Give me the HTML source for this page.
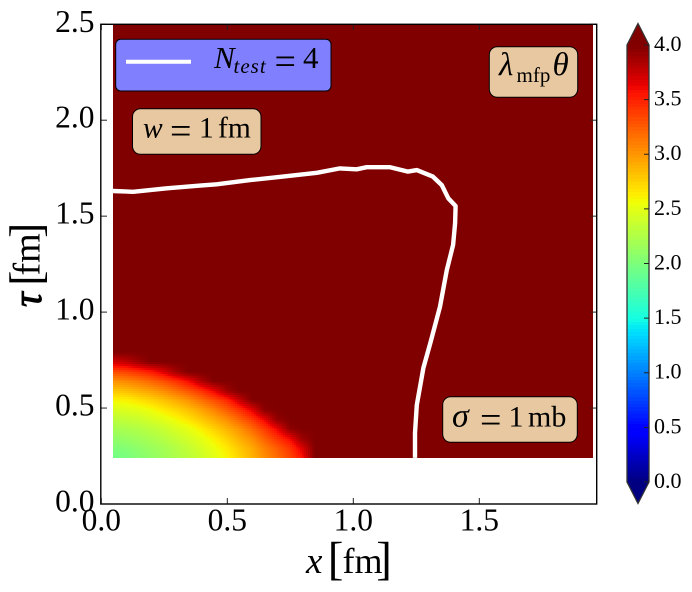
<!DOCTYPE html>
<html lang="en">
<head>
<meta charset="utf-8">
<title>Heatmap of lambda mfp theta</title>
<style>
html,body{margin:0;padding:0;background:#fff;width:692px;height:592px;overflow:hidden}
svg{display:block}
text{font-family:"Liberation Serif","DejaVu Serif",serif;fill:#000}
.i{font-style:italic}
</style>
</head>
<body>
<svg id="chart" xmlns="http://www.w3.org/2000/svg" width="692" height="592" viewBox="0 0 692 592">
<g id="cells" shape-rendering="crispEdges"></g>
<polyline id="contour" fill="none" stroke="#fff" stroke-width="4.4" stroke-linejoin="round"></polyline>
<g id="ticks" stroke="#222" stroke-width="1"></g>
<rect x="100.8" y="24.3" width="495.9" height="479.7" fill="none" stroke="#000" stroke-width="1.4"/>
<g id="xlabels" font-size="31.5" text-anchor="middle"></g>
<g id="ylabels" font-size="31.5" text-anchor="end"></g>
<g>
<text class="i" x="306" y="573" font-size="37">x</text>
<text x="327.8" y="574.6" font-size="47">[</text>
<text x="342.5" y="573" font-size="36">fm</text>
<text x="376.3" y="574.6" font-size="47">]</text>
</g>
<g transform="translate(39.3,307) rotate(-90)">
<text class="i" x="0" y="1.5" font-size="41" stroke="#000" stroke-width="0.9">τ</text>
<text x="21.3" y="1.9" font-size="45.6">[</text>
<text x="31.5" y="0" font-size="38">fm</text>
<text x="69.1" y="1.9" font-size="45.6">]</text>
</g>

<g>
<rect x="115.7" y="39.3" width="215.3" height="51.7" rx="5" fill="#8080ff" stroke="#000" stroke-width="1"/>
<line x1="126" y1="61.7" x2="191" y2="61.7" stroke="#fff" stroke-width="4"/>
<text y="68" font-size="31"><tspan class="i" x="214">N</tspan><tspan class="i" x="233.5" y="73" font-size="21" letter-spacing="1">test</tspan><tspan x="274.5" y="74" font-size="38">=</tspan><tspan x="303" y="68">4</tspan></text>
</g>
<g>
<rect x="132.5" y="108.7" width="128.5" height="45.6" rx="8" fill="#e8c8a0" stroke="#000" stroke-width="1"/>
<text y="137.5" font-size="29.5"><tspan class="i" x="143">w</tspan><tspan x="170" y="143.5" font-size="38">=</tspan><tspan x="199" y="137.5">1</tspan><tspan x="218">fm</tspan></text>
</g>
<g>
<rect x="442.7" y="396.7" width="134.6" height="45.6" rx="8" fill="#e8c8a0" stroke="#000" stroke-width="1"/>
<text y="426.7" font-size="30"><tspan class="i" x="452" font-size="34">σ</tspan><tspan x="480" y="432.7" font-size="38">=</tspan><tspan x="508.5" y="426.7">1</tspan><tspan x="528">mb</tspan></text>
</g>
<g>
<rect x="489.3" y="46.7" width="88.4" height="50.6" rx="8" fill="#e8c8a0" stroke="#000" stroke-width="1"/>
<text y="75" font-size="33"><tspan class="i" x="499">λ</tspan><tspan x="516.5" y="82" font-size="21">mfp</tspan><tspan class="i" x="552.5" y="75">θ</tspan></text>
</g>

<g id="colorbar" shape-rendering="crispEdges"></g>
<polygon id="cb-top" points="627,45 638,23.5 649,45"/>
<polygon id="cb-bottom" points="627,482 638,503.5 649,482"/>
<polygon points="627,45 638,23.5 649,45 649,482 638,503.5 627,482" fill="none" stroke="#333" stroke-width="1.3"/>
<g id="cbticks" stroke="#222" stroke-width="1"></g>
<g id="cblabels" font-size="22"></g>
</svg>
<script>
const xTicks = [0, 0.5, 1, 1.5];
const yTicks = [0, 0.5, 1, 1.5, 2, 2.5];
const xTickLabels = ["0.0", "0.5", "1.0", "1.5"];
const yTickLabels = ["0.0", "0.5", "1.0", "1.5", "2.0", "2.5"];
const cbTicks = [0, 0.5, 1, 1.5, 2, 2.5, 3, 3.5, 4];
const cbTickLabels = ["0.0", "0.5", "1.0", "1.5", "2.0", "2.5", "3.0", "3.5", "4.0"];

const gridX = [0.047, 0.097, 0.147, 0.197, 0.247, 0.297, 0.347, 0.397, 0.447, 0.497, 0.547, 0.597, 0.647, 0.697, 0.747, 0.797, 0.847, 1.95];
const gridTau = [0.24, 0.29, 0.34, 0.39, 0.44, 0.49, 0.54, 0.59, 0.64, 0.69, 0.74, 0.79, 2.5];
const gridValues = [
  [1.95, 1.98, 2.04, 2.10, 2.17, 2.24, 2.31, 2.39, 2.49, 2.60, 2.73, 2.88, 3.03, 3.18, 3.35, 3.55, 4, 4],
  [2.01, 2.04, 2.09, 2.15, 2.20, 2.27, 2.35, 2.44, 2.54, 2.65, 2.79, 2.92, 3.09, 3.25, 3.42, 3.68, 4, 4],
  [2.10, 2.13, 2.17, 2.22, 2.28, 2.35, 2.43, 2.51, 2.62, 2.75, 2.89, 3.03, 3.22, 3.41, 3.60, 3.90, 4, 4],
  [2.20, 2.23, 2.26, 2.31, 2.37, 2.45, 2.52, 2.62, 2.75, 2.88, 3.01, 3.19, 3.38, 3.62, 3.95, 4, 4, 4],
  [2.31, 2.34, 2.37, 2.43, 2.49, 2.57, 2.67, 2.78, 2.90, 3.03, 3.20, 3.38, 3.61, 3.93, 4, 4, 4, 4],
  [2.45, 2.47, 2.50, 2.56, 2.65, 2.73, 2.83, 2.94, 3.08, 3.25, 3.42, 3.65, 3.96, 4, 4, 4, 4, 4],
  [2.60, 2.62, 2.68, 2.75, 2.83, 2.92, 3.03, 3.17, 3.32, 3.48, 3.75, 4, 4, 4, 4, 4, 4, 4],
  [2.80, 2.83, 2.89, 2.96, 3.05, 3.16, 3.29, 3.43, 3.63, 3.89, 4, 4, 4, 4, 4, 4, 4, 4],
  [3.03, 3.07, 3.13, 3.22, 3.32, 3.44, 3.61, 3.84, 4, 4, 4, 4, 4, 4, 4, 4, 4, 4],
  [3.32, 3.36, 3.43, 3.52, 3.69, 3.88, 4, 4, 4, 4, 4, 4, 4, 4, 4, 4, 4, 4],
  [3.72, 3.78, 3.89, 4, 4, 4, 4, 4, 4, 4, 4, 4, 4, 4, 4, 4, 4, 4],
  [4, 4, 4, 4, 4, 4, 4, 4, 4, 4, 4, 4, 4, 4, 4, 4, 4, 4],
  [4, 4, 4, 4, 4, 4, 4, 4, 4, 4, 4, 4, 4, 4, 4, 4, 4, 4]
];

const contourX = [0.046, 0.126, 0.26, 0.392, 0.458, 0.59, 0.721, 0.855, 0.947, 1.013, 1.053, 1.146, 1.217, 1.252, 1.316, 1.351, 1.377, 1.406, 1.404, 1.396, 1.371, 1.344, 1.307, 1.278, 1.252, 1.245, 1.245];
const contourTau = [1.631, 1.627, 1.645, 1.659, 1.666, 1.688, 1.706, 1.726, 1.749, 1.744, 1.755, 1.755, 1.732, 1.74, 1.706, 1.662, 1.593, 1.553, 1.464, 1.35, 1.219, 1.028, 0.846, 0.709, 0.516, 0.37, 0.24];

const NS = "http://www.w3.org/2000/svg";
const sx = v => 101.3 + 252 * v;
const sy = v => 504 - 191.9 * v;
const sc = v => 482 - 109.25 * v;

function interp(t, a) {
  for (let i = 1; i < a.length; i++) {
    if (t <= a[i][0]) {
      const f = (t - a[i - 1][0]) / (a[i][0] - a[i - 1][0]);
      return a[i - 1][1] + f * (a[i][1] - a[i - 1][1]);
    }
  }
  return a[a.length - 1][1];
}
function jet(t) {
  t = Math.max(0, Math.min(1, t));
  const r = interp(t, [[0, 0], [0.35, 0], [0.66, 1], [0.89, 1], [1, 0.5]]);
  const g = interp(t, [[0, 0], [0.125, 0], [0.375, 1], [0.64, 1], [0.91, 0], [1, 0]]);
  const b = interp(t, [[0, 0.5], [0.11, 1], [0.34, 1], [0.65, 0], [1, 0]]);
  return "rgb(" + Math.round(r * 255) + "," + Math.round(g * 255) + "," + Math.round(b * 255) + ")";
}
const valueColor = v => jet(v / 4);

const cells = document.getElementById("cells");
function addCell(x, y, w, h, v) {
  const r = document.createElementNS(NS, "rect");
  
  
  r.setAttribute("x", x);
  r.setAttribute("y", y);
  r.setAttribute("width", w);
  r.setAttribute("height", h);
  r.setAttribute("fill", valueColor(v));
  cells.appendChild(r);
}
for (let j = 0; j < gridTau.length - 1; j++) {
  for (let i = 0; i < gridX.length - 1; i++) {
    const x0 = Math.round(sx(gridX[i])), x1 = Math.round(sx(gridX[i + 1]));
    const y0 = Math.round(sy(gridTau[j])), y1 = Math.round(sy(gridTau[j + 1]));
    const a = gridValues[j][i], b = gridValues[j][i + 1], c = gridValues[j + 1][i], d = gridValues[j + 1][i + 1];
    if (a === b && b === c && c === d) {
      addCell(x0, y1, x1 - x0, y0 - y1, a);
      continue;
    }
    for (let py = y1; py < y0; py += 2) {
      for (let px = x0; px < x1; px += 2) {
        const w = Math.min(2, x1 - px), h = Math.min(2, y0 - py);
        const fx = (px + w / 2 - x0) / (x1 - x0);
        const fy = (y0 - py - h / 2) / (y0 - y1);
        const v = (a * (1 - fx) + b * fx) * (1 - fy) + (c * (1 - fx) + d * fx) * fy;
        addCell(px, py, w, h, v);
      }
    }
  }
}

document.getElementById("contour").setAttribute("points",
  contourX.map((x, i) => sx(x).toFixed(1) + "," + sy(contourTau[i]).toFixed(1)).join(" "));

const ticks = document.getElementById("ticks");
function addTick(parent, name, x1, y1, x2, y2) {
  const l = document.createElementNS(NS, "line");
  
  
  l.setAttribute("x1", x1);
  l.setAttribute("y1", y1);
  l.setAttribute("x2", x2);
  l.setAttribute("y2", y2);
  parent.appendChild(l);
}
function addLabel(parent, name, x, y, str) {
  const t = document.createElementNS(NS, "text");
  
  
  t.setAttribute("x", x);
  t.setAttribute("y", y);
  t.textContent = str;
  parent.appendChild(t);
}
xTicks.forEach((v, i) => {
  const x = sx(v);
  addTick(ticks, "x-tick", x, 504, x, 498);
  addTick(ticks, "x-tick-top", x, 24.3, x, 30);
  addLabel(document.getElementById("xlabels"), "x-tick-label", x, 530.5, xTickLabels[i]);
});
yTicks.forEach((v, i) => {
  const y = sy(v);
  addTick(ticks, "y-tick", 100.8, y, 107, y);
  addTick(ticks, "y-tick-right", 596.7, y, 590.5, y);
  addLabel(document.getElementById("ylabels"), "y-tick-label", 94.5, y + 7.5, yTickLabels[i]);
});

const cb = document.getElementById("colorbar");
const bands = 128;
for (let k = 0; k < bands; k++) {
  const lo = 4 * k / bands, hi = 4 * (k + 1) / bands;
  const r = document.createElementNS(NS, "rect");
  
  
  r.setAttribute("x", 627);
  r.setAttribute("y", Math.floor(sc(hi)));
  r.setAttribute("width", 22);
  r.setAttribute("height", Math.ceil(sc(lo)) - Math.floor(sc(hi)));
  r.setAttribute("fill", valueColor((lo + hi) / 2));
  cb.appendChild(r);
}
document.getElementById("cb-top").setAttribute("fill", valueColor(4));
document.getElementById("cb-bottom").setAttribute("fill", valueColor(0));
cbTicks.forEach((v, i) => {
  const y = sc(v);
  addTick(document.getElementById("cbticks"), "colorbar-tick", 649, y, 644, y);
  addLabel(document.getElementById("cblabels"), "colorbar-tick-label", 654, y + 5.9, cbTickLabels[i]);
});
</script>
</body>
</html>
